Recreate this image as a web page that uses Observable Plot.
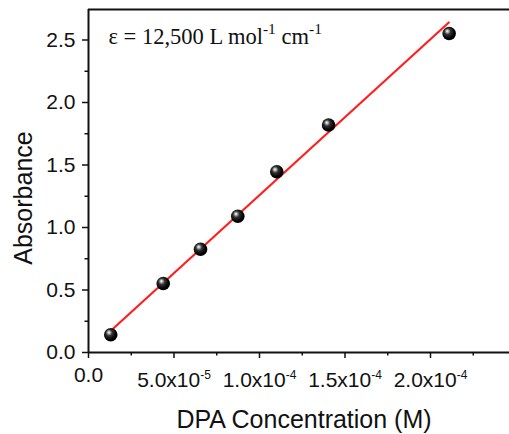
<!DOCTYPE html>
<html>
<head>
<meta charset="utf-8">
<script src="https://cdn.jsdelivr.net/npm/d3@7"></script>
<script src="https://cdn.jsdelivr.net/npm/@observablehq/plot@0.6"></script>
<style>
  html, body { margin: 0; padding: 0; background: #fff; }
  #chart svg { display: block; }
</style>
</head>
<body>
<div id="chart"></div>
<script>
// ---- data ----
const concentration = [1.30e-5, 4.37e-5, 6.55e-5, 8.73e-5, 1.101e-4, 1.404e-4, 2.109e-4];
const absorbance    = [0.142, 0.552, 0.826, 1.090, 1.446, 1.820, 2.552];
const fitConcentration = [1.40e-5, 2.107e-4];
const fitAbsorbance    = [0.186, 2.640];

const xTicks = [0, 5e-5, 1e-4, 1.5e-4, 2e-4];
const xTickLabels = ["0.0", "5.0x10^-5", "1.0x10^-4", "1.5x10^-4", "2.0x10^-4"];
const xMinorTicks = [2.5e-5, 7.5e-5, 1.25e-4, 1.75e-4, 2.25e-4];
const yTicks = [0, 0.5, 1.0, 1.5, 2.0, 2.5];
const yTickLabels = ["0.0", "0.5", "1.0", "1.5", "2.0", "2.5"];
const yMinorTicks = [0.25, 0.75, 1.25, 1.75, 2.25];

const xTitle = "DPA Concentration (M)";
const yTitle = "Absorbance";
const annotation = "ε = 12,500 L mol^-1 cm^-1";

const points = concentration.map((c, i) => ({c, a: absorbance[i]}));
const fit = fitConcentration.map((c, i) => ({c, a: fitAbsorbance[i]}));

const xMax = 2.462e-4, yMax = 2.744;

const chart = Plot.plot({
  width: 509,
  height: 434,
  marginLeft: 88,
  marginRight: 0,
  marginTop: 9,
  marginBottom: 82,
  x: {domain: [0, xMax]},
  y: {domain: [0, yMax]},
  style: {fontFamily: "'Liberation Sans', Arial, sans-serif", background: "#fff", color: "#111"},
  marks: [
    Plot.axisX({ticks: xTicks, tickSize: 6, tickPadding: 9, fontSize: 21, strokeWidth: 1.5,
      tickFormat: d => xTickLabels[xTicks.indexOf(d)], label: null}),
    Plot.axisX({ticks: xMinorTicks, tickSize: 3.5, strokeWidth: 1.5, text: null, label: null}),
    Plot.axisY({ticks: yTicks, tickSize: 6, tickPadding: 7, fontSize: 21, strokeWidth: 1.5,
      tickFormat: d => yTickLabels[yTicks.indexOf(d)], label: null}),
    Plot.axisY({ticks: yMinorTicks, tickSize: 3.5, strokeWidth: 1.5, text: null, label: null}),
    Plot.ruleX([0], {stroke: "#111", strokeWidth: 2}),
    Plot.ruleY([0], {stroke: "#111", strokeWidth: 2}),
    Plot.ruleY([yMax], {stroke: "#111", strokeWidth: 2}),
    Plot.line(fit, {x: "c", y: "a", stroke: "#ff1f1f", strokeWidth: 2.2}),
    Plot.dot(points, {x: "c", y: "a", r: 6.8, fill: "#000", stroke: "none"}),
    Plot.text([annotation], {frameAnchor: "top-left", dx: 20, dy: 34, lineAnchor: "bottom",
      textAnchor: "start", fontSize: 22.5, fontFamily: "'Liberation Serif', 'Times New Roman', serif",
      fill: "#111"}),
    Plot.text([xTitle], {frameAnchor: "bottom", dx: 5, dy: 75, lineAnchor: "bottom",
      textAnchor: "middle", fontSize: 25, fill: "#111"}),
    Plot.text([yTitle], {frameAnchor: "left", dx: -65, dy: 17, rotate: -90,
      textAnchor: "middle", lineAnchor: "middle", fontSize: 25, fill: "#111"})
  ]
});

document.getElementById("chart").appendChild(chart);

const svg = d3.select(chart.tagName.toLowerCase() === "svg" ? chart : chart.querySelector("svg"));

// sphere gradient
const defs = svg.insert("defs", ":first-child");
const grad = defs.append("radialGradient").attr("id", "sphere")
  .attr("cx", "0.42").attr("cy", "0.4").attr("r", "0.6").attr("fx", "0.36").attr("fy", "0.32");
grad.append("stop").attr("offset", "0").attr("stop-color", "#ffffff");
grad.append("stop").attr("offset", "0.12").attr("stop-color", "#c8c8c8");
grad.append("stop").attr("offset", "0.38").attr("stop-color", "#333333");
grad.append("stop").attr("offset", "0.8").attr("stop-color", "#000000");
grad.append("stop").attr("offset", "1").attr("stop-color", "#000000");
svg.selectAll("circle").attr("fill", "url(#sphere)");

// superscript rendering
function renderSup(el, str, supSize, raise, baseShift) {
  const sel = d3.select(el);
  sel.text("");
  const parts = str.split(/\^(-?\d+)/);
  let cur = 0;
  parts.forEach((p, k) => {
    if (!p) return;
    const isSup = k % 2 === 1;
    const target = isSup ? baseShift - raise : baseShift;
    const t = sel.append("tspan").attr("dy", target - cur).text(p);
    if (isSup) t.attr("font-size", supSize);
    cur = target;
  });
}

svg.selectAll("text").each(function() {
  const s = this.textContent;
  if (!s.includes("^")) return;
  if (s.startsWith("ε")) renderSup(this, s, 15.5, 10, 0);
  else renderSup(this, s, 12, 8.4, 5);
});
</script>
</body>
</html>
